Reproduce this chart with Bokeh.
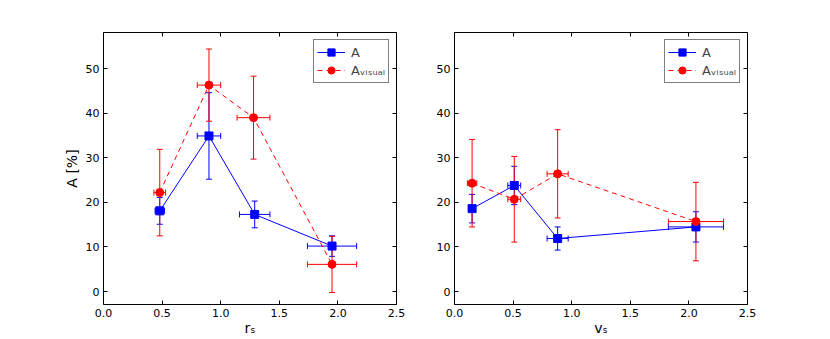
from bokeh.plotting import figure
from bokeh.models import (ColumnDataSource, Whisker, TeeHead, FixedTicker,
                          NumeralTickFormatter, Legend, LegendItem, LinearAxis, Range1d)
from bokeh.layouts import row
from bokeh.embed import file_html
from bokeh.resources import INLINE

# ---- left panel: A vs r_s ----
rs_A = [0.48, 0.90, 1.29, 1.95]
rs_A_xerr = [0.04, 0.10, 0.13, 0.21]
A_rs = [18.1, 34.9, 17.3, 10.2]
A_rs_err = [3.0, 9.7, 3.0, 2.3]

rs_V = [0.48, 0.90, 1.28, 1.95]
rs_V_xerr = [0.05, 0.10, 0.14, 0.21]
Av_rs = [22.2, 46.3, 39.0, 6.1]
Av_rs_err = [9.7, 8.1, 9.3, 6.3]

# ---- right panel: A vs v_s ----
vs_A = [0.15, 0.51, 0.88, 2.06]
vs_A_xerr = [0.03, 0.055, 0.09, 0.235]
A_vs = [18.6, 23.8, 11.9, 14.5]
A_vs_err = [3.2, 4.3, 2.6, 3.4]

vs_V = [0.15, 0.51, 0.88, 2.06]
vs_V_xerr = [0.04, 0.055, 0.09, 0.235]
Av_vs = [24.3, 20.7, 26.4, 15.7]
Av_vs_err = [9.8, 9.6, 9.9, 8.8]

x_ticks = [0.0, 0.5, 1.0, 1.5, 2.0, 2.5]
y_ticks = [0, 10, 20, 30, 40, 50]
label_A = "A"
label_Av = "A\u1d65\u1d62\u209b\u1d64\u2090\u2097"

FONT = "DejaVu Sans"
BLUE = "#0000ff"
RED = "#ff0000"


def add_series(p, x, xerr, y, yerr, color, marker, dash):
    src = ColumnDataSource(dict(
        x=x, y=y,
        ylo=[a - b for a, b in zip(y, yerr)], yhi=[a + b for a, b in zip(y, yerr)],
        xlo=[a - b for a, b in zip(x, xerr)], xhi=[a + b for a, b in zip(x, xerr)],
    ))
    for dim, base, lo, hi in (("height", "x", "ylo", "yhi"), ("width", "y", "xlo", "xhi")):
        w = Whisker(source=src, base=base, lower=lo, upper=hi, dimension=dim,
                    line_color=color, line_width=1,
                    upper_head=TeeHead(size=6, line_color=color, line_width=1),
                    lower_head=TeeHead(size=6, line_color=color, line_width=1))
        p.add_layout(w)
    ln = p.line("x", "y", source=src, line_color=color, line_width=1, line_dash=dash)
    sc = p.scatter("x", "y", source=src, marker=marker, size=8,
                   fill_color=color, line_color=color)
    return [ln, sc]


def mirror_axis(ticks):
    return LinearAxis(ticker=FixedTicker(ticks=ticks), axis_line_color=None,
                      major_tick_in=4, major_tick_out=0, minor_tick_line_color=None,
                      major_label_overrides={t: "" for t in ticks},
                      major_label_standoff=0)


def panel(xa, xa_err, ya, ya_err, xv, xv_err, yv, yv_err, xlabel, ylabel,
          min_left, min_right):
    p = figure(frame_width=293, frame_height=272, output_backend="svg",
               toolbar_location=None, x_range=Range1d(0, 2.5), y_range=Range1d(-2.9, 58.1),
               min_border_left=min_left, min_border_right=min_right,
               min_border_top=32, min_border_bottom=35)
    p.background_fill_color = "white"
    p.border_fill_color = "white"
    p.xgrid.visible = False
    p.ygrid.visible = False
    p.outline_line_color = "black"
    p.outline_line_width = 1
    p.outline_line_alpha = 1

    r1 = add_series(p, xa, xa_err, ya, ya_err, BLUE, "square", "solid")
    r2 = add_series(p, xv, xv_err, yv, yv_err, RED, "circle", "5 4")

    for ax in (p.xaxis[0], p.yaxis[0]):
        ax.axis_line_color = None
        ax.major_tick_in = 4
        ax.major_tick_out = 0
        ax.minor_tick_line_color = None
        ax.major_tick_line_color = "black"
        ax.major_label_text_font = FONT
        ax.major_label_text_font_size = "11px"
        ax.major_label_text_color = "black"
        ax.axis_label_text_font = FONT
        ax.axis_label_text_font_style = "normal"
        ax.axis_label_text_color = "black"
        ax.axis_label_text_font_size = "14px"
    p.xaxis[0].ticker = FixedTicker(ticks=x_ticks)
    p.xaxis[0].formatter = NumeralTickFormatter(format="0.0")
    p.yaxis[0].ticker = FixedTicker(ticks=y_ticks)
    p.xaxis[0].major_label_standoff = 4
    p.xaxis[0].axis_label_standoff = 0
    p.yaxis[0].major_label_standoff = 4
    p.yaxis[0].axis_label_standoff = 3
    p.xaxis[0].axis_label = xlabel
    if ylabel:
        p.yaxis[0].axis_label = ylabel

    p.add_layout(mirror_axis(x_ticks), "above")
    p.add_layout(mirror_axis(y_ticks), "right")

    leg = Legend(items=[LegendItem(label=label_A, renderers=r1),
                        LegendItem(label=label_Av, renderers=r2)],
                 location="top_right", margin=7, padding=3, spacing=0,
                 glyph_width=28, glyph_height=18, label_height=18,
                 label_standoff=6, label_text_font=FONT, label_text_font_size="13px",
                 border_line_color="black", border_line_width=1,
                 background_fill_color="white", background_fill_alpha=1)
    p.add_layout(leg)
    return p


p1 = panel(rs_A, rs_A_xerr, A_rs, A_rs_err, rs_V, rs_V_xerr, Av_rs, Av_rs_err,
           "r\u209b", "A [%]", 103, 29)
p2 = panel(vs_A, vs_A_xerr, A_vs, A_vs_err, vs_V, vs_V_xerr, Av_vs, Av_vs_err,
           "v\u209b", None, 29, 10)

layout = row(p1, p2)
open("out.html", "w").write(file_html(layout, INLINE))
